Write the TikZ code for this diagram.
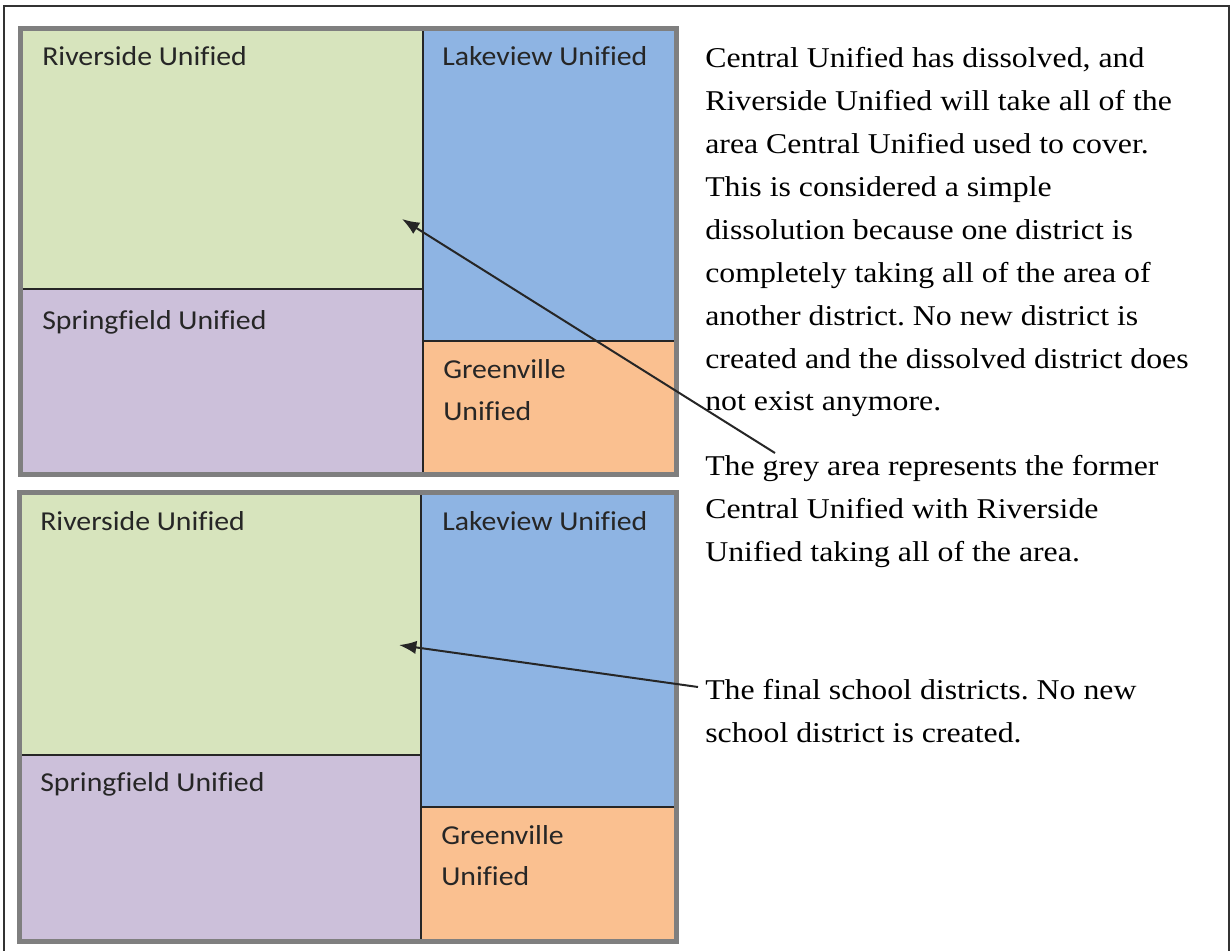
\documentclass[tikz,border=0pt]{standalone}
\usepackage{fontspec}
\setmainfont{Liberation Serif}
\newfontfamily\calib{Carlito}[FakeStretch=1.09,Ligatures=CommonOff]
\newfontfamily\timesw{Liberation Serif}[FakeStretch=1.11]
\usetikzlibrary{arrows.meta}
\frenchspacing
\definecolor{cgreen}{HTML}{D7E4BD}
\definecolor{cblue}{HTML}{8EB4E3}
\definecolor{cpurple}{HTML}{CCC0DA}
\definecolor{corange}{HTML}{FAC090}
\definecolor{cframe}{HTML}{7F7F7F}
\definecolor{cdiv}{HTML}{262626}
\tikzset{
  lbl/.style={anchor=base west, inner sep=0pt, font=\calib\fontsize{20.5pt}{24pt}\selectfont, text=black!85},
  txt/.style={anchor=base west, inner sep=0pt, font=\timesw\fontsize{21.5pt}{26pt}\selectfont, text=black},
  divider/.style={draw=cdiv, line width=1.5pt},
  panelframe/.style={fill=cframe},
  pointer/.style={draw=black!85, line width=1.5pt, -{Latex[length=13pt,width=10pt]}}
}
\begin{document}
\begin{tikzpicture}[x=0.75pt,y=-0.75pt]
\useasboundingbox (0,0) rectangle (1231,950);
\fill[white] (0,0) rectangle (1231,950);
% outer frame
\draw[black!80, line width=1.5pt] (4,960) -- (4,6) -- (1229,6) -- (1229,960);
% top panel
\fill[panelframe] (18,26) rectangle (679,477);
\fill[cgreen] (23,31) rectangle (423,289);
\fill[cpurple] (23,289) rectangle (423,472);
\fill[cblue] (423,31) rectangle (674,341);
\fill[corange] (423,341) rectangle (674,472);
\draw[divider] (423,31) -- (423,472);
\draw[divider] (23,289) -- (423,289);
\draw[divider] (423,341) -- (674,341);
% bottom panel
\fill[panelframe] (17,490) rectangle (679,944);
\fill[cgreen] (22,495) rectangle (421,755);
\fill[cpurple] (22,755) rectangle (421,939);
\fill[cblue] (421,495) rectangle (674,807);
\fill[corange] (421,807) rectangle (674,939);
\draw[divider] (421,495) -- (421,939);
\draw[divider] (22,755) -- (421,755);
\draw[divider] (421,807) -- (674,807);
% labels top
\node[lbl] (tr) at (42,65) {Riverside Unified};
\node[lbl] (tl) at (442,65) {Lakeview Unified};
\node[lbl] (ts) at (42,329) {Springfield Unified};
\node[lbl] (tg1) at (443,378) {Greenville};
\node[lbl] (tg2) at (443,420) {Unified};
% labels bottom
\node[lbl] (br) at (40,530) {Riverside Unified};
\node[lbl] (bl) at (442,530) {Lakeview Unified};
\node[lbl] (bs) at (40,791) {Springfield Unified};
\node[lbl] (bg1) at (441,844) {Greenville};
\node[lbl] (bg2) at (441,885) {Unified};
% paragraph 1
\node[txt] (p1a) at (705,67) {Central Unified has dissolved, and};
\node[txt] (p1b) at (705,110) {Riverside Unified will take all of the};
\node[txt] (p1c) at (705,153) {area Central Unified used to cover.};
\node[txt] (p1d) at (705,196) {This is considered a simple};
\node[txt] (p1e) at (705,239) {dissolution because one district is};
\node[txt] (p1f) at (705,282) {completely taking all of the area of};
\node[txt] (p1g) at (705,325) {another district. No new district is};
\node[txt] (p1h) at (705,368) {created and the dissolved district does};
\node[txt] (p1i) at (705,410) {not exist anymore.};
% paragraph 2
\node[txt] (p2a) at (705,475) {The grey area represents the former};
\node[txt] (p2b) at (705,518) {Central Unified with Riverside};
\node[txt] (p2c) at (705,561) {Unified taking all of the area.};
% paragraph 3
\node[txt] (p3a) at (705,699) {The final school districts. No new};
\node[txt] (p3b) at (705,742) {school district is created.};
% arrows
\coordinate (a1s) at (775,453);
\coordinate (a1e) at (402,219);
\coordinate (a2s) at (698,687);
\coordinate (a2e) at (399,645);
\draw[pointer] (a1s) -- (a1e);
\draw[pointer] (a2s) -- (a2e);
\end{tikzpicture}
\end{document}
